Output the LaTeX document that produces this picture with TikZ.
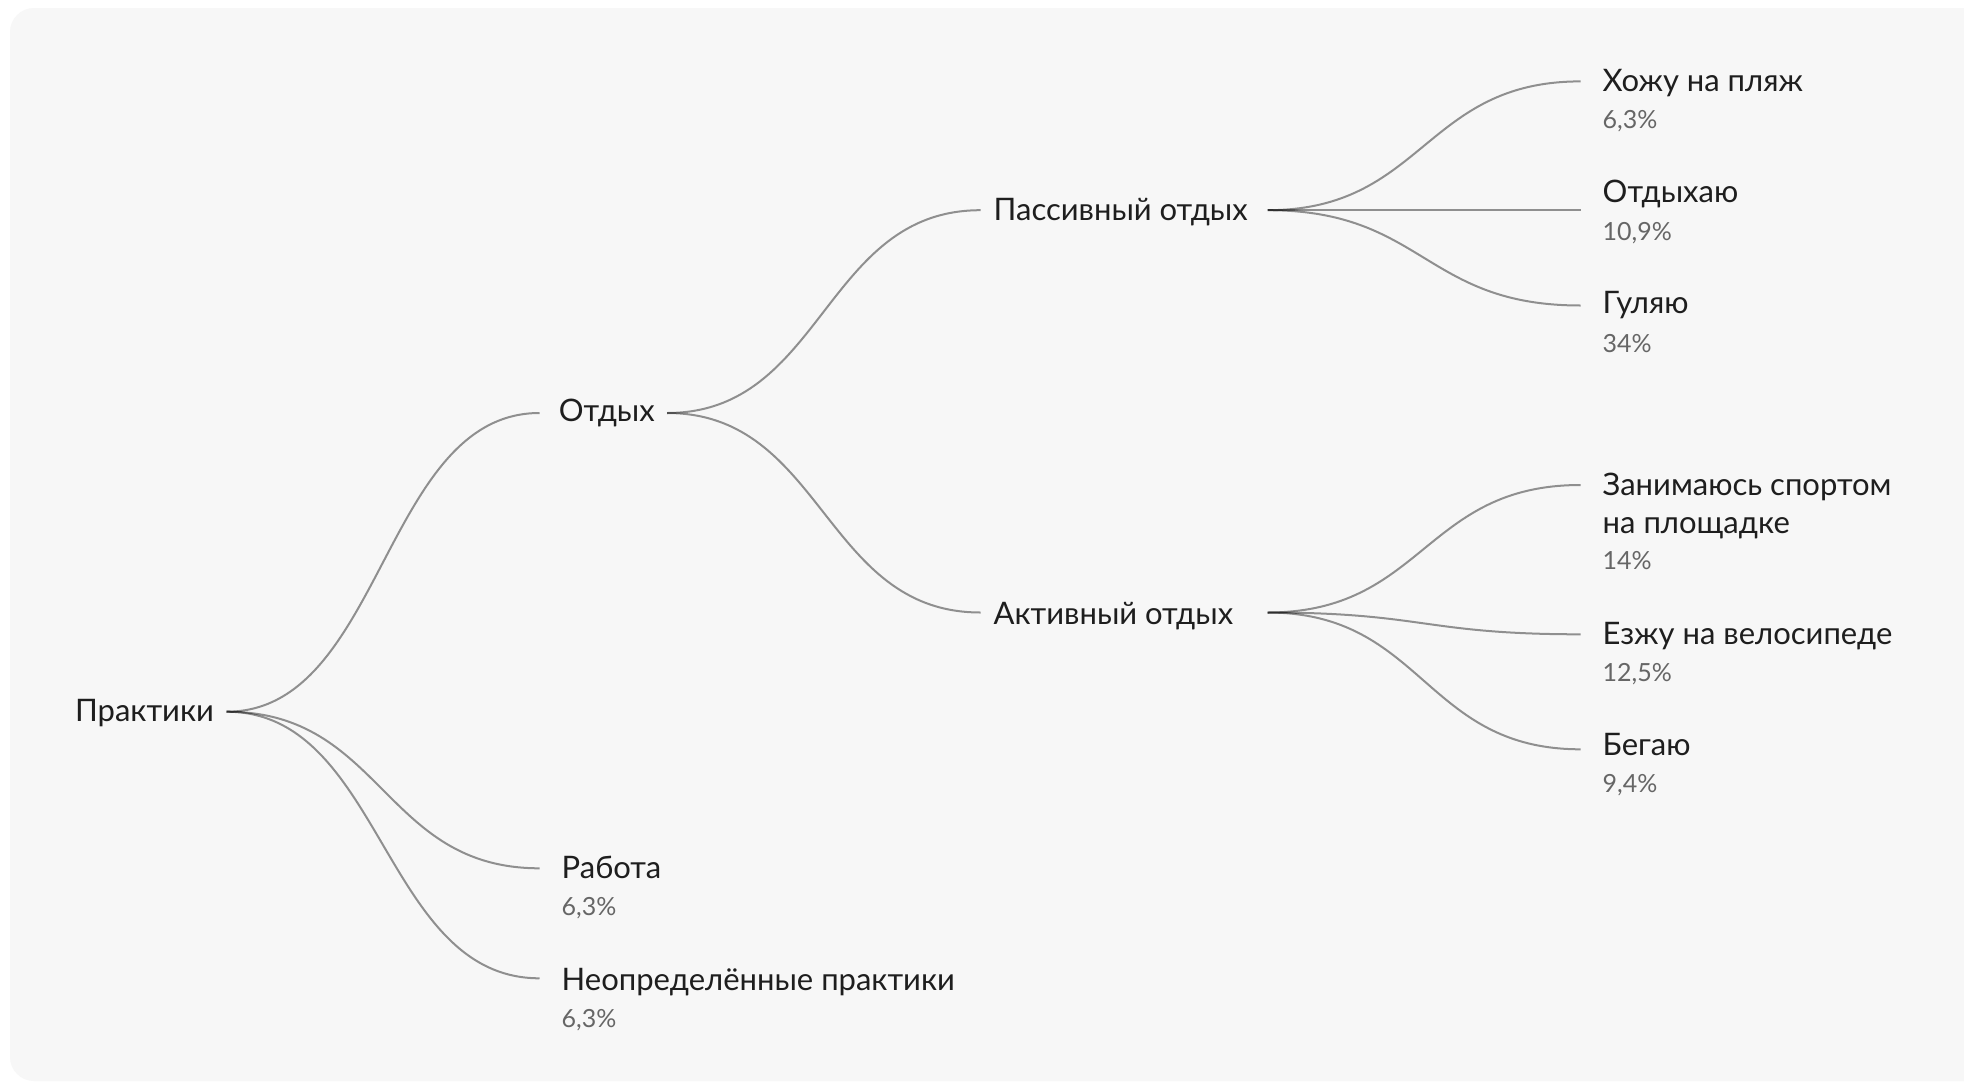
\documentclass[tikz,border=0pt]{standalone}
\usepackage{fontspec}
\setmainfont{Lato}
\usetikzlibrary{calc}
\definecolor{panel}{HTML}{F7F7F7}
\definecolor{ink}{HTML}{1E1E1E}
\definecolor{subink}{HTML}{666666}
\newcommand{\treelink}[2]{%
  \draw[branch] let \p1=(#1), \p2=(#2) in
    (\p1) .. controls ({0.5*\x1+0.5*\x2},\y1) and ({0.5*\x1+0.5*\x2},\y2) .. (\p2);}
\begin{document}
\begin{tikzpicture}[x=1pt,y=-1pt,
  lbl/.style={anchor=base west, inner sep=0pt, text=ink, font=\fontsize{31}{38}\selectfont},
  pct/.style={anchor=base west, inner sep=0pt, text=subink, font=\fontsize{25}{30}\selectfont},
  branch/.style={draw=black, draw opacity=0.42, line width=2pt}]
\useasboundingbox (0,0) rectangle (1964,1084);
\clip (0,0) rectangle (1964,1084);
\fill[white] (0,0) rectangle (1964,1084);
\fill[panel, rounded corners=24pt] (10,8) rectangle (2010,1081);

% level 0
\node[lbl] (praktiki) at (74.9,721.7) {Практики};
\coordinate (praktiki-out) at (226.5,711.7);

% level 1
\node[lbl] (otdyh) at (558.7,421.5) {Отдых};
\coordinate (otdyh-in) at (539.5,413);
\coordinate (otdyh-out) at (667,413);

\node[lbl] (rabota) at (561.5,878) {Работа};
\node[pct] (rabota-p) at (561.5,915) {6,3\%};
\coordinate (rabota-in) at (539.5,868.3);

\node[lbl] (neopr) at (561.5,990) {Неопределённые практики};
\node[pct] (neopr-p) at (561.5,1027.5) {6,3\%};
\coordinate (neopr-in) at (539.5,978.3);

% level 2
\node[lbl] (pass) at (993.5,220) {Пассивный отдых};
\coordinate (pass-in) at (980.5,210.2);
\coordinate (pass-out) at (1267.5,210.2);

\node[lbl] (akt) at (993.5,624) {Активный отдых};
\coordinate (akt-in) at (980.5,612.5);
\coordinate (akt-out) at (1267.5,612.5);

% level 3
\node[lbl] (plyazh) at (1602.5,91) {Хожу на пляж};
\node[pct] (plyazh-p) at (1602.5,128) {6,3\%};
\coordinate (plyazh-in) at (1580.5,81.4);

\node[lbl] (otdyhayu) at (1602.5,202) {Отдыхаю};
\node[pct] (otdyhayu-p) at (1602.5,240) {10,9\%};
\coordinate (otdyhayu-in) at (1580.5,210.2);

\node[lbl] (gulyayu) at (1602.5,313.5) {Гуляю};
\node[pct] (gulyayu-p) at (1602.5,352) {34\%};
\coordinate (gulyayu-in) at (1580.5,305.5);

\node[lbl, align=left] (sport) at (1602.5,533) {Занимаюсь спортом\\на площадке};
\node[pct] (sport-p) at (1602.5,569.5) {14\%};
\coordinate (sport-in) at (1580.5,485);

\node[lbl] (velo) at (1602.5,644.3) {Езжу на велосипеде};
\node[pct] (velo-p) at (1602.5,681) {12,5\%};
\coordinate (velo-in) at (1580.5,634.3);

\node[lbl] (begayu) at (1602.5,755) {Бегаю};
\node[pct] (begayu-p) at (1602.5,792) {9,4\%};
\coordinate (begayu-in) at (1580.5,749.3);

% connectors
\treelink{praktiki-out}{otdyh-in}
\treelink{praktiki-out}{rabota-in}
\treelink{praktiki-out}{neopr-in}
\treelink{otdyh-out}{pass-in}
\treelink{otdyh-out}{akt-in}
\treelink{pass-out}{plyazh-in}
\treelink{pass-out}{otdyhayu-in}
\treelink{pass-out}{gulyayu-in}
\treelink{akt-out}{sport-in}
\treelink{akt-out}{velo-in}
\treelink{akt-out}{begayu-in}
\end{tikzpicture}
\end{document}
